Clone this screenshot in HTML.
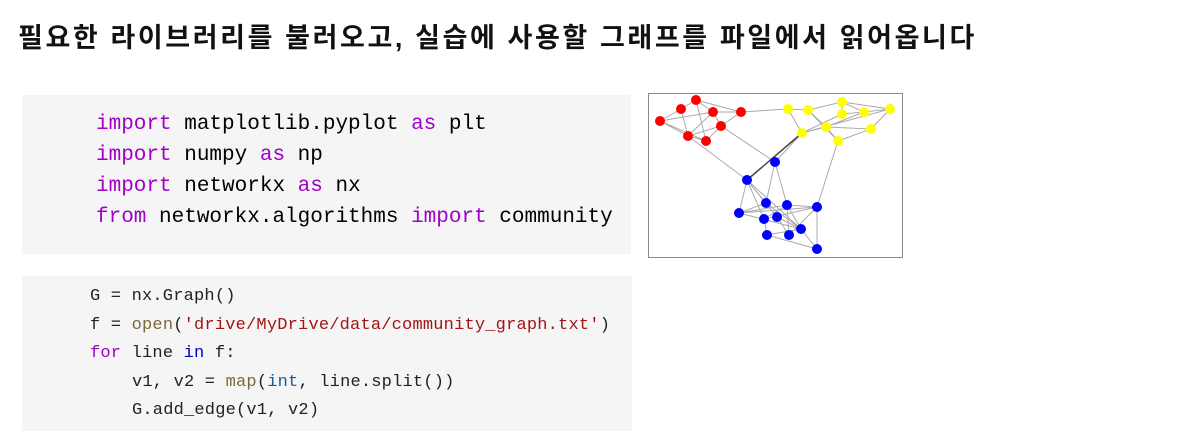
<!DOCTYPE html>
<html><head><meta charset="utf-8"><style>
body{margin:0;width:1198px;height:446px;background:#fff;position:relative;overflow:hidden}
.t{position:absolute;left:18px;top:16px;font:bold 27px "Liberation Sans","Noto Sans CJK KR",sans-serif;color:#111;white-space:nowrap;letter-spacing:2.6px}
.c1{position:absolute;left:22px;top:95px;width:609px;height:159px;background:#f5f5f5}
.c2{position:absolute;left:22px;top:276px;width:610px;height:155px;background:#f5f5f5}
.l1{position:absolute;left:96px;font:21px "Liberation Mono",monospace;color:#000;white-space:nowrap;line-height:24px}
.l2{position:absolute;font:17px "Liberation Mono",monospace;color:#222;white-space:nowrap;line-height:22px;letter-spacing:0.2px}
.k{color:#a000c8}.s{color:#a31515}.f{color:#7a6a3a}.b{color:#1a5a9a}.kb{color:#0000c0}
</style></head><body>
<div class="t">필요한 라이브러리를 불러오고, 실습에 사용할 그래프를 파일에서 읽어옵니다</div>
<div class="c1"></div>
<div class="l1" style="top:113px"><span class="k">import</span> matplotlib.pyplot <span class="k">as</span> plt</div>
<div class="l1" style="top:144px"><span class="k">import</span> numpy <span class="k">as</span> np</div>
<div class="l1" style="top:175px"><span class="k">import</span> networkx <span class="k">as</span> nx</div>
<div class="l1" style="top:206px"><span class="k">from</span> networkx.algorithms <span class="k">import</span> community</div>
<div class="c2"></div>
<div class="l2" style="left:90px;top:286px">G = nx.Graph()</div>
<div class="l2" style="left:90px;top:315px">f = <span class="f">open</span>(<span class="s">'drive/MyDrive/data/community_graph.txt'</span>)</div>
<div class="l2" style="left:90px;top:343px"><span class="k">for</span> line <span class="kb">in</span> f:</div>
<div class="l2" style="left:132px;top:372px">v1, v2 = <span class="f">map</span>(<span class="b">int</span>, line.split())</div>
<div class="l2" style="left:132px;top:400px">G.add_edge(v1, v2)</div>
<svg style="position:absolute;left:0;top:0" width="1198" height="446">
<rect x="648.5" y="93.5" width="254" height="164" fill="#fff" stroke="#888" stroke-width="1"/>
<g stroke="#aaa" stroke-width="1" fill="none">
<path d="M660 121L681 109L696 100L713 112L741 112L721 126L706 141L688 136L660 121M660 121L713 112M681 109L688 136M696 100L706 141M713 112L688 136M713 112L721 126M696 100L741 112M660 121L706 141M721 126L688 136"/>
<path d="M741 112L788 109M788 109L808 110L842 102L864 112L890 109L871 129L838 141L826 127L802 133L788 109M808 110L826 127M842 102L842 114L864 112M842 114L802 133M826 127L864 112M890 109L802 133M808 110L838 141M842 102L890 109M826 127L871 129"/>
<path d="M688 136L747 180M721 126L775 162M802 133L775 162M838 141L817 207M775 162L766 203M775 162L787 205"/>
<path d="M747 180L739 213M747 180L766 203M747 180L764 219M747 180L777 217M747 180L801 229M739 213L766 203M739 213L787 205M739 213L817 207M766 203L777 217M766 203L801 229M787 205L817 207M787 205L801 229M787 205L789 235M817 207L764 219M817 207L817 249M817 207L789 235M764 219L767 235M777 217L789 235M777 217L801 229M801 229L817 249M767 235L817 249M767 235L801 229M764 219L787 205M739 213L801 229"/>
</g>
<path d="M747 180L802 133" stroke="#444" stroke-width="1.5"/>
<g fill="#f00"><circle cx="660" cy="121" r="5"/><circle cx="681" cy="109" r="5"/><circle cx="696" cy="100" r="5"/><circle cx="713" cy="112" r="5"/><circle cx="741" cy="112" r="5"/><circle cx="721" cy="126" r="5"/><circle cx="688" cy="136" r="5"/><circle cx="706" cy="141" r="5"/></g>
<g fill="#ff0"><circle cx="788" cy="109" r="5"/><circle cx="808" cy="110" r="5"/><circle cx="842" cy="102" r="5"/><circle cx="842" cy="114" r="5"/><circle cx="864" cy="112" r="5"/><circle cx="890" cy="109" r="5"/><circle cx="871" cy="129" r="5"/><circle cx="826" cy="127" r="5"/><circle cx="802" cy="133" r="5"/><circle cx="838" cy="141" r="5"/></g>
<g fill="#00f"><circle cx="775" cy="162" r="5"/><circle cx="747" cy="180" r="5"/><circle cx="739" cy="213" r="5"/><circle cx="766" cy="203" r="5"/><circle cx="787" cy="205" r="5"/><circle cx="817" cy="207" r="5"/><circle cx="764" cy="219" r="5"/><circle cx="777" cy="217" r="5"/><circle cx="801" cy="229" r="5"/><circle cx="789" cy="235" r="5"/><circle cx="767" cy="235" r="5"/><circle cx="817" cy="249" r="5"/></g>
</svg>
</body></html>
